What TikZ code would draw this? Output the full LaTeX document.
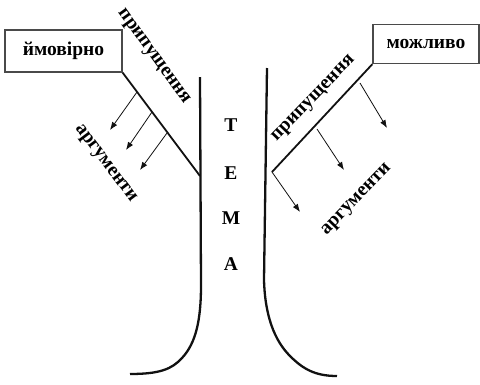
\documentclass[tikz,border=0pt]{standalone}
\usepackage{fontspec}
\setmainfont{Liberation Serif}
\usetikzlibrary{arrows.meta,calc}
\definecolor{ink}{HTML}{111111}
\definecolor{frame}{HTML}{4A4A4A}

\begin{document}
\begin{tikzpicture}[x=1pt, y=-1pt, >=Latex,
    font=\bfseries\fontsize{19.5}{22}\selectfont,
    box/.style={draw=frame, line width=1.3pt, inner sep=0pt},
    trunk/.style={draw=ink, line width=2.3pt},
    branch/.style={draw=ink, line width=1.8pt},
    arg/.style={->, draw=ink, line width=0.8pt, >={Latex[length=8pt,width=6pt]}}]
  \useasboundingbox (0,0) rectangle (480,384);

  % boxes
  \node[box, minimum width=117pt, minimum height=42pt] (imov) at (63.5,51) {ймовірно};
  \node[box, minimum width=106pt, minimum height=39pt] (mozh) at (426,44) {можливо};

  % trunk
  \draw[trunk] (200,77) -- (201,285) .. controls (201,320) and (196,343) .. (182,358)
    .. controls (172,369) and (160,374) .. (130,374);
  \draw[trunk] (267,68) -- (264,280) .. controls (265,315) and (274,340) .. (290,356)
    .. controls (303,369) and (315,376) .. (337,376);

  \foreach \ch/\yy [count=\i] in {Т/125, Е/173, М/218, А/264}
    \node (tema\i) at (231,\yy) {\ch};

  % left branch
  \coordinate (ljoin) at (200,176);
  \draw[branch] (imov.south east) -- (ljoin);
  \coordinate (la1) at (137,92);  \coordinate (lb1) at (110,130);
  \coordinate (la2) at (152,112); \coordinate (lb2) at (126,150);
  \coordinate (la3) at (167,133); \coordinate (lb3) at (140,170);
  \foreach \i in {1,2,3}
    \draw[arg] (la\i) -- (lb\i);
  \node[rotate=-54] (lprip) at (153,57) {припущення};
  \node[rotate=-53] (larg) at (105,164) {аргументи};

  % right branch
  \coordinate (rjoin) at (272,172);
  \draw[branch] (mozh.south west) -- (rjoin);
  \coordinate (ra1) at (360,83);  \coordinate (rb1) at (387,128);
  \coordinate (ra2) at (317,129); \coordinate (rb2) at (344,170);
  \coordinate (rb3) at (300,212);
  \foreach \i in {1,2}
    \draw[arg] (ra\i) -- (rb\i);
  \draw[arg] (rjoin) -- (rb3);
  \node[rotate=46] (rprip) at (314,99) {припущення};
  \node[rotate=46] (rarg) at (357,200) {аргументи};
\end{tikzpicture}
\end{document}
